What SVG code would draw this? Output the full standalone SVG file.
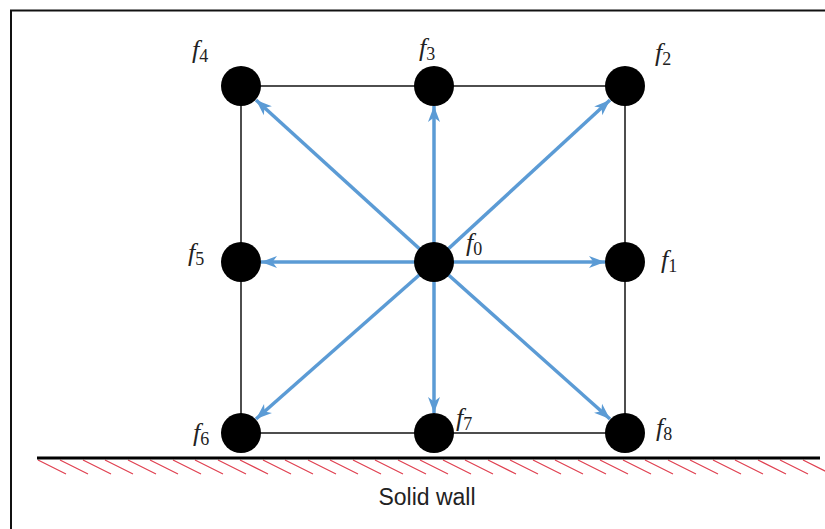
<svg xmlns="http://www.w3.org/2000/svg" width="825" height="529" viewBox="0 0 825 529">
<style>
.frame{fill:none;stroke:#111;stroke-width:2}
.edge{fill:none;stroke:#222;stroke-width:1.6}
.arr{stroke:#5B9BD5;stroke-width:3.5;stroke-linecap:butt;marker-end:url(#ah)}
.node{fill:#000}
.lbl{font-family:"Liberation Serif","DejaVu Serif",serif;font-size:26px;fill:#222}
.lbl .f{font-style:italic}
.lbl .s{font-size:18px}
.wall{stroke:#000;stroke-width:3}
.hatch{stroke:#E04050;stroke-width:1.2}
.cap{font-family:"Liberation Sans",Arial,sans-serif;font-size:23px;fill:#222;text-anchor:middle}
</style>
<defs>
<marker id="ah" markerUnits="userSpaceOnUse" markerWidth="18" markerHeight="14" refX="16" refY="7" orient="auto">
<path d="M0,1 L16,7 L0,13 L4.5,7 z" fill="#5B9BD5"/>
</marker>
</defs>
<polyline class="frame" points="11,529 11,10.5 825,10.5"/>
<g id="lattice">
<rect class="edge" x="241" y="86" width="384" height="347"/>
</g>
<g id="connectors">
<line class="arr" x1="434" y1="262" x2="434" y2="106"/>
<line class="arr" x1="434" y1="262" x2="610" y2="100"/>
<line class="arr" x1="434" y1="262" x2="605" y2="262"/>
<line class="arr" x1="434" y1="262" x2="610" y2="419"/>
<line class="arr" x1="434" y1="262" x2="434" y2="413"/>
<line class="arr" x1="434" y1="262" x2="256" y2="419"/>
<line class="arr" x1="434" y1="262" x2="261" y2="262"/>
<line class="arr" x1="434" y1="262" x2="256" y2="100"/>
</g>
<g id="n0"><circle class="node" cx="434" cy="262" r="20"/><text class="lbl" x="466" y="251"><tspan class="f">f</tspan><tspan class="s" dy="4">0</tspan></text></g>
<g id="n1"><circle class="node" cx="625" cy="262" r="20"/><text class="lbl" x="661" y="268"><tspan class="f">f</tspan><tspan class="s" dy="4">1</tspan></text></g>
<g id="n2"><circle class="node" cx="625" cy="86" r="20"/><text class="lbl" x="655" y="61"><tspan class="f">f</tspan><tspan class="s" dy="4">2</tspan></text></g>
<g id="n3"><circle class="node" cx="434" cy="86" r="20"/><text class="lbl" x="419" y="56"><tspan class="f">f</tspan><tspan class="s" dy="4">3</tspan></text></g>
<g id="n4"><circle class="node" cx="241" cy="86" r="20"/><text class="lbl" x="192" y="58"><tspan class="f">f</tspan><tspan class="s" dy="4">4</tspan></text></g>
<g id="n5"><circle class="node" cx="241" cy="262" r="20"/><text class="lbl" x="188" y="261"><tspan class="f">f</tspan><tspan class="s" dy="4">5</tspan></text></g>
<g id="n6"><circle class="node" cx="241" cy="433" r="20"/><text class="lbl" x="193" y="441"><tspan class="f">f</tspan><tspan class="s" dy="4">6</tspan></text></g>
<g id="n7"><circle class="node" cx="434" cy="433" r="20"/><text class="lbl" x="456" y="426"><tspan class="f">f</tspan><tspan class="s" dy="4">7</tspan></text></g>
<g id="n8"><circle class="node" cx="625" cy="433" r="20"/><text class="lbl" x="656" y="436"><tspan class="f">f</tspan><tspan class="s" dy="4">8</tspan></text></g>
<g id="wall">
<path class="hatch" d="M38,460 l28,14 M60,460 l28,14 M83,460 l28,14 M105,460 l28,14 M128,460 l28,14 M150,460 l28,14 M173,460 l28,14 M195,460 l28,14 M218,460 l28,14 M240,460 l28,14 M263,460 l28,14 M285,460 l28,14 M308,460 l28,14 M330,460 l28,14 M353,460 l28,14 M375,460 l28,14 M398,460 l28,14 M420,460 l28,14 M443,460 l28,14 M465,460 l28,14 M488,460 l28,14 M510,460 l28,14 M533,460 l28,14 M555,460 l28,14 M578,460 l28,14 M600,460 l28,14 M623,460 l28,14 M645,460 l28,14 M668,460 l28,14 M690,460 l28,14 M713,460 l28,14 M735,460 l28,14 M758,460 l28,14 M780,460 l28,14 M803,460 l28,14"/>
<line class="wall" x1="37" y1="458" x2="820" y2="458"/>
<text class="cap" x="427" y="505">Solid wall</text>
</g>
</svg>
